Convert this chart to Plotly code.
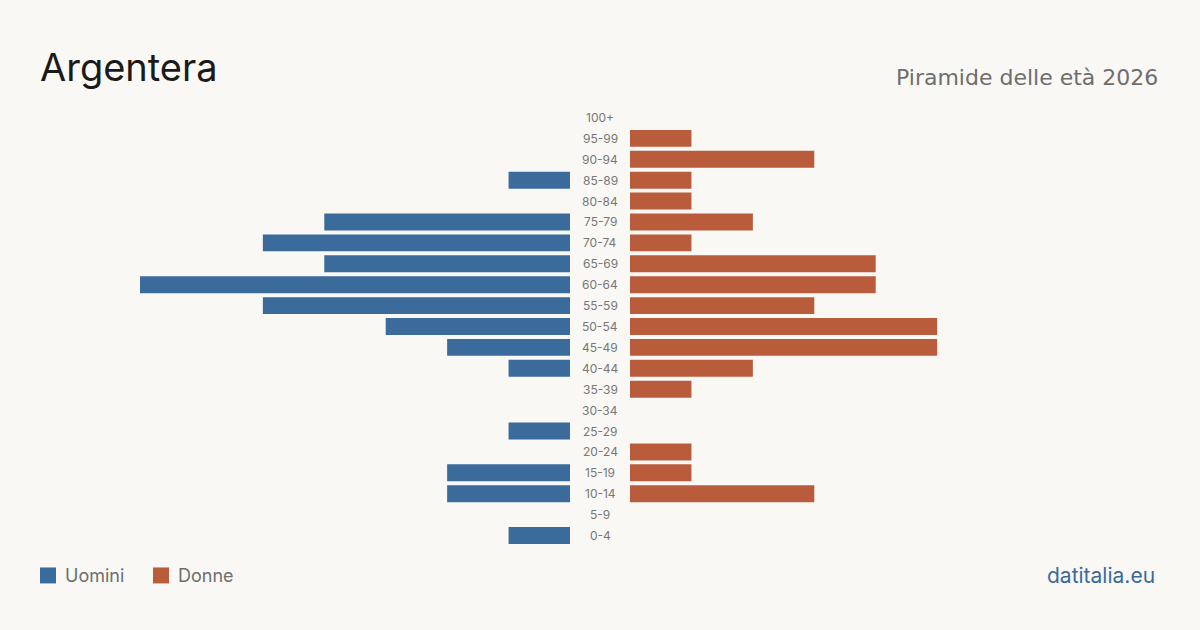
import plotly.graph_objects as go

age_groups = ["0-4", "5-9", "10-14", "15-19", "20-24", "25-29", "30-34", "35-39",
              "40-44", "45-49", "50-54", "55-59", "60-64", "65-69", "70-74", "75-79",
              "80-84", "85-89", "90-94", "95-99", "100+"]
men = [1, 0, 2, 2, 0, 1, 0, 0, 1, 2, 3, 5, 7, 4, 5, 4, 0, 1, 0, 0, 0]
women = [0, 0, 3, 1, 1, 0, 0, 1, 2, 5, 5, 3, 4, 4, 1, 2, 1, 1, 3, 1, 0]

title = "Argentera"
subtitle = "Piramide delle età 2026"
source = "datitalia.eu"
men_label = "Uomini"
women_label = "Donne"

BLUE = "#3a6b9b"
RED = "#b85c3c"
BG = "#f9f8f4"
GREY = "#6e6e6e"
FONT = "Inter"

W, H = 1200, 630
top, bottom = 106.5, 546.5
ph = bottom - top

def py(pix):
    return (bottom - pix) / ph

fig = go.Figure()
fig.add_trace(go.Bar(y=age_groups, x=men, orientation="h", marker_color=BLUE,
                     marker_line_width=0,
                     xaxis="x", yaxis="y", name=men_label, showlegend=False,
                     hoverinfo="x+y"))
fig.add_trace(go.Bar(y=age_groups, x=women, orientation="h", marker_color=RED,
                     marker_line_width=0,
                     xaxis="x2", yaxis="y", name=women_label, showlegend=False,
                     hoverinfo="x+y"))

annotations = []
for a in age_groups:
    annotations.append(dict(x=600 / W, y=a, xref="paper", yref="y", text=a,
                            showarrow=False, xanchor="center", yanchor="middle",
                            font=dict(family=FONT, size=12, color="#777777")))

annotations += [
    dict(x=38 / W, y=py(66), xref="paper", yref="paper", text=title, showarrow=False,
         xanchor="left", yanchor="middle", font=dict(family=FONT, size=38, color="#1a1a1a")),
    dict(x=1160 / W, y=py(77), xref="paper", yref="paper", text=subtitle, showarrow=False,
         xanchor="right", yanchor="middle", font=dict(family="DejaVu Sans", size=22, color=GREY)),
    dict(x=63 / W, y=py(576), xref="paper", yref="paper", text=men_label, showarrow=False,
         xanchor="left", yanchor="middle", font=dict(family=FONT, size=18, color=GREY)),
    dict(x=176 / W, y=py(576), xref="paper", yref="paper", text=women_label, showarrow=False,
         xanchor="left", yanchor="middle", font=dict(family=FONT, size=18, color=GREY)),
    dict(x=1157 / W, y=py(576), xref="paper", yref="paper", text=source, showarrow=False,
         xanchor="right", yanchor="middle", font=dict(family=FONT, size=21, color=BLUE)),
]

shapes = [
    dict(type="rect", xref="paper", yref="paper", x0=40 / W, x1=56 / W,
         y0=py(584), y1=py(568), fillcolor=BLUE, line_width=0),
    dict(type="rect", xref="paper", yref="paper", x0=153 / W, x1=169 / W,
         y0=py(584), y1=py(568), fillcolor=RED, line_width=0),
]

fig.update_layout(
    width=W, height=H,
    paper_bgcolor=BG, plot_bgcolor=BG,
    margin=dict(l=0, r=0, t=top, b=H - bottom, pad=0),
    bargap=0.19,
    xaxis=dict(domain=[140 / W, 570 / W], range=[7, 0], visible=False, fixedrange=True),
    xaxis2=dict(domain=[630 / W, 1060 / W], range=[0, 7], visible=False, anchor="y",
                fixedrange=True),
    yaxis=dict(categoryorder="array", categoryarray=age_groups, visible=False,
               range=[-0.5, len(age_groups) - 0.5], fixedrange=True),
    annotations=annotations,
    shapes=shapes,
    showlegend=False,
)

fig.write_html("out.html")
